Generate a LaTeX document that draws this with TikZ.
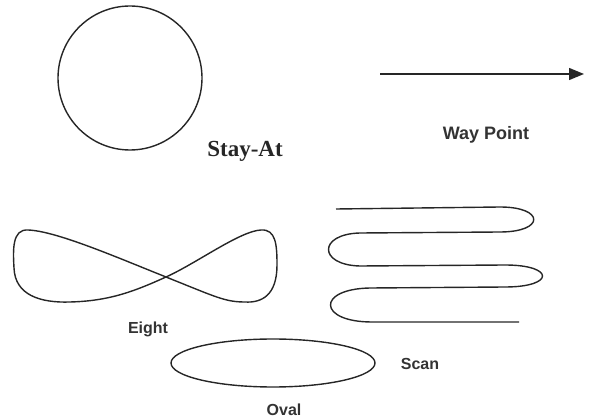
\documentclass[tikz,border=0pt]{standalone}
\usepackage{fontspec}
\usetikzlibrary{arrows.meta}
\newfontfamily\capsans{Liberation Sans}
\newfontfamily\capserif{Liberation Serif}
\colorlet{pathK}{black!85}
\tikzstyle{track}=[draw=pathK, line width=1.4pt, line join=round]
\tikzstyle{caption}=[anchor=base, inner sep=0pt, font=\capsans\bfseries\fontsize{16}{19}\selectfont, text=black!80]
\tikzstyle{serifcap}=[anchor=base, inner sep=0pt, font=\capserif\bfseries\fontsize{23}{26}\selectfont, text=black!85]

\begin{document}
\begin{tikzpicture}[x=1pt, y=-1pt]
				\useasboundingbox (0,0) rectangle (589,419);

				% stay-at
				\coordinate (O) at (130,78);
				\draw[track] (O) circle (72);
				\node[serifcap] (stayat) at (245,157) {Stay-At};

				% way point
				\coordinate (W1) at (380,74);
				\coordinate (W2) at (584,74);
				\draw[track, -{Triangle[length=15pt, width=12pt]}] (W1) -- (W2);
				\node[caption, font=\capsans\bfseries\fontsize{18}{21}\selectfont] (waypoint) at (486,140) {Way Point};

				% eight
				\coordinate (X) at (166,277);
				\draw[track] (X) .. controls (116,257) and (56,231) .. (28,230)
					.. controls (12,229) and (13,250) .. (14,268)
					.. controls (15,295) and (40,303) .. (70,302)
					.. controls (110,301) and (135,291) .. (X)
					.. controls (197,263) and (240,231) .. (261,230)
					.. controls (276,229) and (277,245) .. (277,265)
					.. controls (277,295) and (262,303) .. (245,302)
					.. controls (225,302) and (216,297) .. (X) -- cycle;
				\node[caption] (eight) at (148,334) {Eight};

				% oval
				\coordinate (V) at (273,363);
				\draw[track] (V) ellipse (102 and 24);
				\node[caption] (oval) at (284,415) {Oval};

				% scan
				\coordinate (S) at (336,209);
				\coordinate (T) at (519,322);
				\draw[track] (S) -- (500,207) .. controls (545,207) and (545,232) .. (500,232)
					-- (360,233) .. controls (318,234) and (318,265) .. (360,266)
					-- (505,265) .. controls (555,265) and (555,287) .. (505,287)
					-- (370,288) .. controls (316,289) and (318,322) .. (372,322)
					-- (T);
				\node[caption] (scan) at (420,370) {Scan};
			\end{tikzpicture}
\end{document}
